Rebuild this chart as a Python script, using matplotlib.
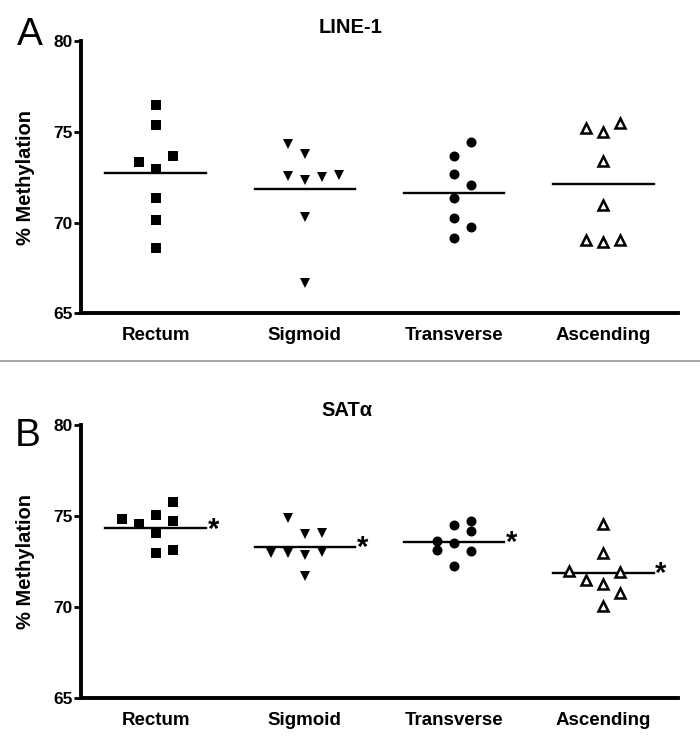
import matplotlib
matplotlib.use("Agg")
import matplotlib.pyplot as plt
from matplotlib.lines import Line2D

plt.rcParams['font.family'] = ['Liberation Sans', 'DejaVu Sans']
plt.rcParams['font.weight'] = 'bold'

categories = ["Rectum", "Sigmoid", "Transverse", "Ascending"]
yticks = [65, 70, 75, 80]

# LINE-1 values per site
line1_rectum = [76.5, 75.4, 73.35, 73.7, 72.97, 71.37, 70.18, 68.6]
line1_sigmoid = [74.36, 73.8, 72.56, 72.38, 72.53, 72.62, 70.3, 66.7]
line1_transverse = [74.43, 73.71, 72.71, 72.1, 71.37, 70.27, 69.76, 69.14]
line1_ascending = [75.22, 75.03, 75.49, 73.42, 71.0, 69.03, 68.96, 69.03]
line1_means = [72.73, 71.87, 71.65, 72.16]

# SAT-alpha values per site
sat_rectum = [74.8, 74.54, 75.02, 75.75, 74.69, 74.03, 72.93, 73.12]
sat_sigmoid = [74.86, 73.98, 74.03, 72.97, 72.93, 72.84, 73.0, 71.7]
sat_transverse = [74.49, 74.73, 74.18, 73.61, 73.52, 73.12, 73.04, 72.25]
sat_ascending = [74.53, 72.93, 71.96, 71.92, 71.47, 71.23, 70.73, 70.05]
sat_means = [74.32, 73.3, 73.57, 71.87]

# horizontal column offsets of the scatter (in marker columns)
line1_cols = [
    [0, 0, -1, 1, 0, 0, 0, 0],
    [-1, 0, -1, 0, 1, 2, 0, 0],
    [1, 0, 0, 1, 0, 0, 1, 0],
    [-1, 0, 1, 0, 0, -1, 0, 1],
]
sat_cols = [
    [-2, -1, 0, 1, 1, 0, 0, 1],
    [-1, 0, 1, -2, -1, 0, 1, 0],
    [0, 1, 1, -1, 0, -1, 1, 0],
    [0, 0, -2, 1, -1, 0, 1, 0],
]

styles = [
    dict(marker='s', ms=7.2, mfc='black', mec='black', mew=0),
    dict(marker='v', ms=7.5, mfc='black', mec='black', mew=0),
    dict(marker='o', ms=7.2, mfc='black', mec='black', mew=0),
    dict(marker='^', ms=7.5, mfc='white', mec='black', mew=1.8),
]

col_w = 0.114
half = 0.336

fig = plt.figure(figsize=(7.0, 7.46), dpi=100)
ax1 = fig.add_axes([0.1157, 0.5798, 0.853, 0.3646])
ax2 = fig.add_axes([0.1157, 0.0647, 0.853, 0.366])


def panel(ax, groups, means, cols, stars):
    for i, vals in enumerate(groups):
        xs = [i + c * col_w for c in cols[i]]
        ax.plot(xs, vals, linestyle='none', **styles[i], zorder=3)
        ax.plot([i - half, i + half], [means[i], means[i]], color='black', lw=1.7, zorder=2)
        if stars:
            ax.text(i + 0.385, means[i] - 0.08, '*', fontsize=21, ha='center',
                    va='center', fontweight='bold')
    ax.set_xlim(-0.5, 3.5)
    ax.set_ylim(65, 80)
    ax.set_yticks(yticks)
    ax.set_yticklabels([str(t) for t in yticks], fontsize=12.5, fontweight='bold')
    ax.set_xticks(range(len(categories)))
    ax.set_xticklabels(categories, fontsize=13.5, fontweight='bold')
    ax.tick_params(axis='x', length=0, pad=10)
    ax.tick_params(axis='y', length=5, width=2, pad=1)
    ax.spines['top'].set_visible(False)
    ax.spines['right'].set_visible(False)
    ax.spines['left'].set_linewidth(2.8)
    ax.spines['bottom'].set_linewidth(2.8)
    ax.set_ylabel('% Methylation', fontsize=14.5, fontweight='bold')
    ax.yaxis.set_label_coords(-0.077, 0.5)


panel(ax1, [line1_rectum, line1_sigmoid, line1_transverse, line1_ascending],
      line1_means, line1_cols, False)
panel(ax2, [sat_rectum, sat_sigmoid, sat_transverse, sat_ascending],
      sat_means, sat_cols, True)

fig.text(0.5, 0.963, 'LINE-1', fontsize=14.5, fontweight='bold', ha='center', va='center')
fig.text(0.495, 0.450, 'SAT\u03b1', fontsize=14.5, fontweight='bold', ha='center', va='center')
fig.text(0.042, 0.953, 'A', fontsize=28, fontweight='normal', ha='center', va='center')
fig.text(0.039, 0.416, 'B', fontsize=28, fontweight='normal', ha='center', va='center')

fig.add_artist(Line2D([0, 1], [0.516, 0.516], color='#999999', lw=1.2,
                      transform=fig.transFigure))

fig.savefig('out.png', dpi=100)
